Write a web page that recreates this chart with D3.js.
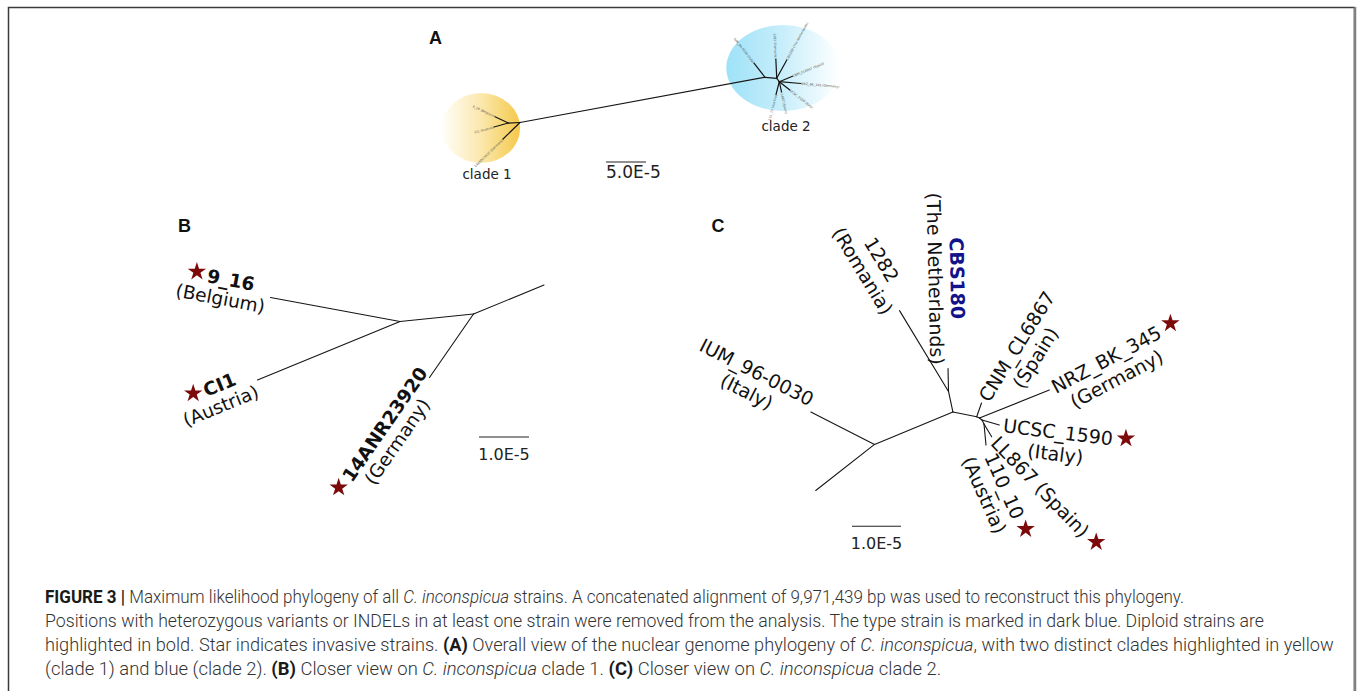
<!DOCTYPE html>
<html>
<head>
<meta charset="utf-8">
<script src="https://cdn.jsdelivr.net/npm/d3@7"></script>
<style>
  body { margin: 0; background: #fff; }
  svg { display: block; }
</style>
</head>
<body>
<svg id="fig" width="1360" height="691"></svg>
<script>
// branch coordinates are in units of 1e-5 substitutions/site (layout space)

// ---- panel A: overall nuclear genome phylogeny
const treeA = [
  { id: 'r1', parent: null, x: 12.5, y: 12.81 },
  { id: 's1', parent: 'r1', x: 11.04, y: 12.88 },
  { id: 'a1', parent: 's1', x: 9.38, y: 12.09 },
  { id: 'a2', parent: 's1', x: 9.25, y: 13.38 },
  { id: 'a3', parent: 'r1', x: 10.38, y: 14.88 },
  { id: 'r2', parent: 'r1', x: 43.13, y: 7.16 },
  { id: 'b1', parent: 'r2', x: 41.75, y: 5.4 },
  { id: 's2', parent: 'r2', x: 44.59, y: 7.29 },
  { id: 'b2', parent: 's2', x: 44.48, y: 4.89 },
  { id: 'b3', parent: 's2', x: 45.85, y: 5.0 },
  { id: 's3', parent: 's2', x: 44.91, y: 7.71 },
  { id: 'b4', parent: 's3', x: 46.56, y: 7.03 },
  { id: 'b5', parent: 's3', x: 47.6, y: 7.94 },
  { id: 'b6', parent: 's3', x: 46.23, y: 8.75 },
  { id: 'b7', parent: 's3', x: 45.19, y: 8.98 },
  { id: 'b8', parent: 's3', x: 44.5, y: 9.31 },
];
const leafNamesA = [
  { id: 'a1', lines: ['9_16 (Belgium)'] },
  { id: 'a2', lines: ['CI1 (Austria)'] },
  { id: 'a3', lines: ['14ANR23920 (Germany)'] },
  { id: 'b1', lines: ['IUM_96-0030 (Italy)'] },
  { id: 'b2', lines: ['1282 (Romania)'] },
  { id: 'b3', lines: ['CBS180 (The Netherlands)'] },
  { id: 'b4', lines: ['CNM_CL6867 (Spain)'] },
  { id: 'b5', lines: ['NRZ_BK_345 (Germany)'] },
  { id: 'b6', lines: ['UCSC_1590 (Italy)'] },
  { id: 'b7', lines: ['LL867 (Spain)'] },
  { id: 'b8', lines: ['110_10 (Austria)'] },
];
const clades = [
  { name: 'clade 1', cx: 7.63, cy: 13.5, rx: 4.88, ry: 4.38, colors: ['#fffef9', '#fbe8ad', '#f4c84a'] },
  { name: 'clade 2', cx: 45.38, cy: 6.0, rx: 7.09, ry: 5.38, colors: ['#9ee2f8', '#c8eefb', '#ffffff'] },
];

// ---- panel B: clade 1
const treeB = [
  { id: 'n1', parent: null, x: 4.8, y: 2.23 },
  { id: 'n2', parent: 'n1', x: 6.27, y: 2.08 },
  { id: 'toClade2', parent: 'n2', x: 7.68, y: 1.5 },
  { id: '9_16', parent: 'n1', x: 2.21, y: 1.75 },
  { id: 'CI1', parent: 'n1', x: 1.95, y: 3.4 },
  { id: '14ANR23920', parent: 'n2', x: 5.39, y: 3.35 },
];
const strainsB = [
  { id: '9_16', lines: ['9_16', '(Belgium)'], diploid: true, invasive: true },
  { id: 'CI1', lines: ['CI1', '(Austria)'], diploid: true, invasive: true },
  { id: '14ANR23920', lines: ['14ANR23920', '(Germany)'], diploid: true, invasive: true },
];

// ---- panel C: clade 2
const treeC = [
  { id: 'a', parent: null, x: 3.97, y: 5.6 },
  { id: 'toClade1', parent: 'a', x: 2.77, y: 6.54 },
  { id: 'IUM_96-0030', parent: 'a', x: 2.67, y: 4.94 },
  { id: 'b', parent: 'a', x: 5.57, y: 4.94 },
  { id: 'c', parent: 'b', x: 5.48, y: 4.52 },
  { id: '1282', parent: 'c', x: 4.48, y: 2.87 },
  { id: 'CBS180', parent: 'c', x: 5.47, y: 4.05 },
  { id: 'd', parent: 'b', x: 6.055, y: 5.035 },
  { id: 'CNM_CL6867', parent: 'd', x: 6.153, y: 4.755 },
  { id: 'e', parent: 'd', x: 6.112, y: 5.061 },
  { id: 'NRZ_BK_345', parent: 'e', x: 7.537, y: 4.49 },
  { id: 'g', parent: 'e', x: 6.163, y: 5.102 },
  { id: 'UCSC_1590', parent: 'g', x: 6.516, y: 5.204 },
  { id: 'h', parent: 'g', x: 6.204, y: 5.184 },
  { id: 'LL867', parent: 'h', x: 6.361, y: 5.443 },
  { id: '110_10', parent: 'h', x: 6.245, y: 5.612 },
];
const strainsC = [
  { id: 'IUM_96-0030', lines: ['IUM_96-0030', '(Italy)'], diploid: false, invasive: false },
  { id: '1282', lines: ['1282', '(Romania)'], diploid: false, invasive: false },
  { id: 'CBS180', lines: ['CBS180', '(The Netherlands)'], diploid: true, invasive: false, type: true },
  { id: 'CNM_CL6867', lines: ['CNM_CL6867', '(Spain)'], diploid: false, invasive: false },
  { id: 'NRZ_BK_345', lines: ['NRZ_BK_345', '(Germany)'], diploid: false, invasive: true },
  { id: 'UCSC_1590', lines: ['UCSC_1590', '(Italy)'], diploid: false, invasive: true },
  { id: 'LL867', lines: ['LL867 (Spain)'], diploid: false, invasive: true },
  { id: '110_10', lines: ['110_10', '(Austria)'], diploid: false, invasive: true },
];

const captionLines = [
  [['b', 'FIGURE 3 | '], ['', 'Maximum likelihood phylogeny of all '], ['i', 'C. inconspicua'], ['', ' strains. A concatenated alignment of 9,971,439 bp was used to reconstruct this phylogeny.']],
  [['', 'Positions with heterozygous variants or INDELs in at least one strain were removed from the analysis. The type strain is marked in dark blue. Diploid strains are']],
  [['', 'highlighted in bold. Star indicates invasive strains. '], ['b', '(A)'], ['', ' Overall view of the nuclear genome phylogeny of '], ['i', 'C. inconspicua'], ['', ', with two distinct clades highlighted in yellow']],
  [['', '(clade 1) and blue (clade 2). '], ['b', '(B)'], ['', ' Closer view on '], ['i', 'C. inconspicua'], ['', ' clade 1. '], ['b', '(C)'], ['', ' Closer view on '], ['i', 'C. inconspicua'], ['', ' clade 2.']],
];
const captionWidths = [1140, 1220, 1290, 897];

const svg = d3.select('#fig');
const labelFont = "'DejaVu Sans', sans-serif";

// frame
svg.append('rect')
  .attr('x', 8.5).attr('y', 7.5).attr('width', 1346).attr('height', 720)
  .attr('fill', 'none').attr('stroke', '#3a3a3a').attr('stroke-width', 1.5);
svg.append('line')
  .attr('x1', 1355).attr('x2', 1355).attr('y1', 7).attr('y2', 691)
  .attr('stroke', '#808080').attr('stroke-width', 2.5);

const makeScales = (ox, oy, k) => ({
  x: d3.scaleLinear().domain([0, 1]).range([ox, ox + k]),
  y: d3.scaleLinear().domain([0, 1]).range([oy, oy + k]),
});

const drawTree = (g, tree, x, y, width) => {
  const byId = new Map(tree.map((d) => [d.id, d]));
  g.selectAll('line.branch')
    .data(tree.filter((d) => d.parent))
    .join('line')
    .attr('class', 'branch')
    .attr('x1', (d) => x(byId.get(d.parent).x))
    .attr('y1', (d) => y(byId.get(d.parent).y))
    .attr('x2', (d) => x(d.x))
    .attr('y2', (d) => y(d.y))
    .attr('stroke', '#151515')
    .attr('stroke-width', width)
    .attr('stroke-linecap', 'round');
  return byId;
};

const star = d3.symbol().type(d3.symbolStar).size(105);

// leaf labels follow the branch direction, flipped to stay readable
const drawLabels = (g, byId, strains, x, y, o) => {
  strains.forEach((s) => {
    const leaf = byId.get(s.id);
    const par = byId.get(leaf.parent);
    const px = x(leaf.x), py = y(leaf.y);
    let ang = Math.atan2(py - y(par.y), px - x(par.x)) * 180 / Math.PI;
    if (o.tilt && o.tilt[s.id] != null) ang = o.tilt[s.id];
    const flip = ang > 90 || ang <= -90;
    const rot = flip ? (ang > 0 ? ang - 180 : ang + 180) : ang;
    const lg = g.append('g').attr('transform', `translate(${px},${py}) rotate(${rot})`);
    const n = s.lines.length;
    // left-hand labels are centred on the branch, right-hand ones start on it
    const y0 = flip ? -(n - 1) / 2 * o.lh : 0;
    const texts = s.lines.map((t, i) => lg.append('text')
      .text(t)
      .attr('font-family', o.family || labelFont)
      .attr('font-size', o.size)
      .attr('font-weight', i === 0 && s.diploid ? 'bold' : 'normal')
      .attr('fill', i === 0 && s.type ? '#12128a' : (o.color || '#111'))
      .attr('text-anchor', 'middle')
      .attr('dy', '0.35em')
      .attr('y', y0 + i * o.lh));
    const w = texts.map((t) => t.node().getComputedTextLength());
    const W = d3.max(w);
    const cx = flip ? -(o.gap + W / 2) : o.gap + W / 2;
    const lead = (o.lead || 0) * (flip ? 1 : -1);
    texts.forEach((t, i) => t.attr('x', i === 0 && n > 1 ? cx + lead : cx));
    if (s.invasive && o.stars) {
      const c0 = n > 1 ? cx + lead : cx;
      const lx = flip ? c0 - w[0] / 2 - 11 : c0 + w[0] / 2 + 13;
      const ly = y0 - 2;
      const r = rot * Math.PI / 180;
      const gx = px + Math.cos(r) * lx - Math.sin(r) * ly;
      const gy = py + Math.sin(r) * lx + Math.cos(r) * ly;
      g.append('path')
        .attr('d', star())
        .attr('transform', `translate(${gx},${gy})`)
        .attr('fill', '#7d0a0a');
    }
  });
};

const scaleBar = (g, x, y, x0, y0, len, label, centered, dyText, size) => {
  g.append('line')
    .attr('x1', x(x0)).attr('x2', x(x0 + len))
    .attr('y1', y(y0)).attr('y2', y(y0))
    .attr('stroke', '#222').attr('stroke-width', 1.1);
  g.append('text')
    .attr('x', centered ? (x(x0) + x(x0 + len)) / 2 : x(x0))
    .attr('y', y(y0) + dyText)
    .attr('text-anchor', centered ? 'middle' : 'start')
    .attr('font-family', labelFont)
    .attr('font-size', size)
    .attr('fill', '#222')
    .text(label);
};

const panelLetter = (px, py, t) => svg.append('text')
  .attr('x', px).attr('y', py)
  .attr('font-family', "'Liberation Sans', Arial, sans-serif")
  .attr('font-weight', 'bold').attr('font-size', 18).attr('fill', '#111')
  .text(t);

// ---- A
{
  const { x, y } = makeScales(420, 20, 8);
  const g = svg.append('g');
  const defs = svg.append('defs');
  clades.forEach((c, i) => {
    const grad = defs.append('linearGradient').attr('id', `halo${i}`)
      .attr('x1', 0).attr('x2', 1).attr('y1', 0).attr('y2', 0);
    c.colors.forEach((col, j) => grad.append('stop')
      .attr('offset', j / (c.colors.length - 1)).attr('stop-color', col));
    g.append('ellipse')
      .attr('cx', x(c.cx)).attr('cy', y(c.cy))
      .attr('rx', x(c.rx) - x(0)).attr('ry', y(c.ry) - y(0))
      .attr('fill', `url(#halo${i})`);
    g.append('text')
      .attr('x', x(c.cx) + (i === 0 ? 6 : 3))
      .attr('y', y(c.cy + c.ry) + (i === 0 ? 16 : 20))
      .attr('text-anchor', 'middle')
      .attr('font-family', labelFont).attr('font-size', 13.5).attr('fill', '#222')
      .text(c.name);
  });
  const byId = drawTree(g, treeA, x, y, 1.2);
  drawLabels(g, byId, leafNamesA, x, y, { size: 3.2, lh: 3, gap: 0.4, color: '#555', stars: false });
  scaleBar(g, x, y, 23.25, 17.75, 5, '5.0E-5', false, 16, 17);
  panelLetter(429, 44, 'A');
}

// ---- B
{
  const { x, y } = makeScales(160, 210, 50);
  const g = svg.append('g');
  const byId = drawTree(g, treeB, x, y, 1.1);
  drawLabels(g, byId, strainsB, x, y, { size: 18.5, lh: 20, gap: 4, lead: 7, stars: true });
  scaleBar(g, x, y, 6.38, 4.54, 1, '1.0E-5', true, 23, 16);
  panelLetter(178, 232, 'B');
}

// ---- C
{
  const { x, y } = makeScales(680, 170, 49);
  const g = svg.append('g');
  const byId = drawTree(g, treeC, x, y, 1.1);
  drawLabels(g, byId, strainsC, x, y, {
    size: 19, lh: 22, gap: 4, stars: true,
    tilt: { CNM_CL6867: -58, NRZ_BK_345: -28, UCSC_1590: 7, LL867: 46, '110_10': 66 },
  });
  scaleBar(g, x, y, 3.51, 7.27, 1, '1.0E-5', true, 23, 16);
  panelLetter(711.5, 231.5, 'C');
}

// ---- caption
captionLines.forEach((parts, i) => {
  const t = svg.append('text')
    .attr('x', 0).attr('y', 0)
    .attr('font-family', "Roboto, 'Liberation Sans', sans-serif")
    .attr('font-size', 18)
    .attr('font-weight', 300)
    .attr('fill', '#333');
  parts.forEach(([st, str]) => t.append('tspan')
    .attr('font-weight', st === 'b' ? 'bold' : null)
    .attr('font-style', st === 'i' ? 'italic' : null)
    .attr('fill', st === 'b' ? '#1a1a1a' : null)
    .text(str));
  const natural = t.node().getComputedTextLength();
  t.attr('transform', `translate(45, ${603 + i * 24}) scale(${captionWidths[i] / natural}, 1)`);
});
</script>
</body>
</html>
